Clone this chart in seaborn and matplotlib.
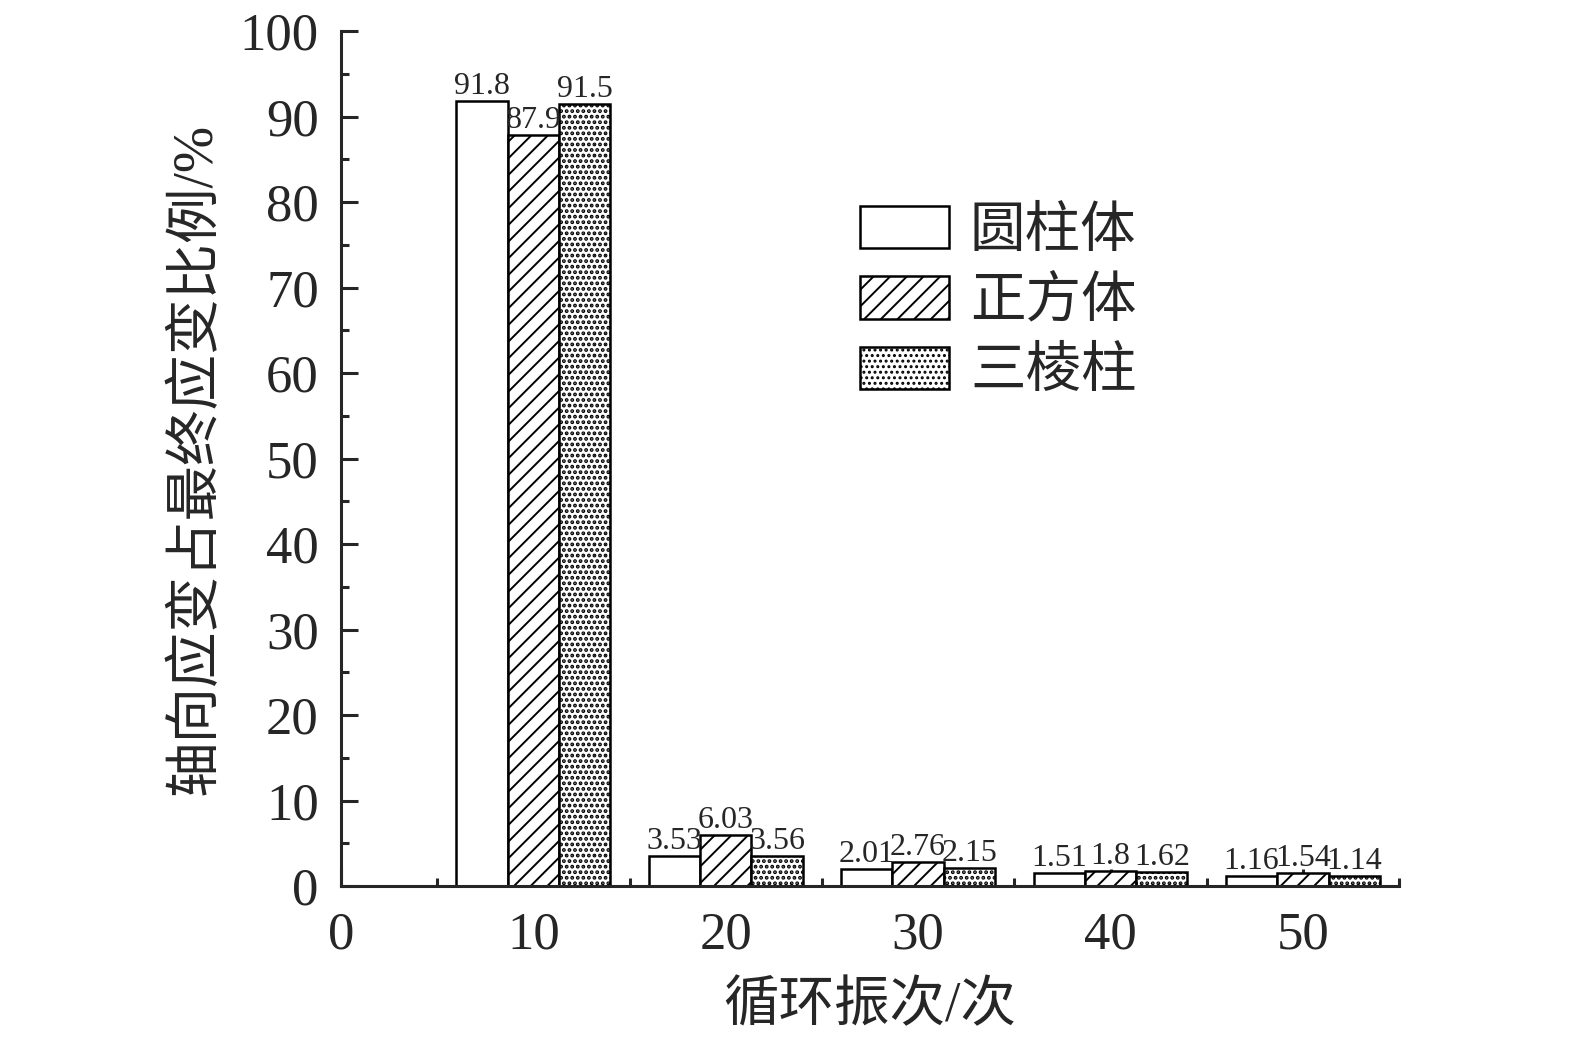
import pandas as pd
import matplotlib
matplotlib.use('Agg')
import matplotlib.pyplot as plt
import seaborn as sns
from matplotlib.ticker import MultipleLocator

# data
cycles = [10, 20, 30, 40, 50]
shapes = ['圆柱体', '正方体', '三棱柱']
cylinder = [91.8, 3.53, 2.01, 1.51, 1.16]
cube = [87.9, 6.03, 2.76, 1.8, 1.54]
prism = [91.5, 3.56, 2.15, 1.62, 1.14]
hatches = ['', '//', '...']

df = pd.DataFrame({
    'cycle': cycles * 3,
    'shape': [s for s in shapes for _ in cycles],
    'ratio': cylinder + cube + prism,
})

sns.set_style('ticks')
plt.rcParams['font.family'] = ['Liberation Serif', 'Noto Sans CJK SC']
plt.rcParams['hatch.linewidth'] = 1.4
plt.rcParams['axes.linewidth'] = 2.2

fig = plt.figure(figsize=(15.75, 10.4), dpi=100)
ax = fig.add_axes([0.2165, 0.148, 0.6718, 0.8221])

sns.barplot(data=df, x='cycle', y='ratio', hue='shape', hue_order=shapes,
            native_scale=True, palette=['white'] * 3, edgecolor='black',
            linewidth=1.8, saturation=1, legend=False, ax=ax)

for cont, h in zip(ax.containers, hatches):
    for p in cont:
        p.set_hatch(h)
        p.set_facecolor('white')
        if h == '...' and hasattr(p, 'set_hatch_linewidth'):
            p.set_hatch_linewidth(1.9)
    ax.bar_label(cont, fmt='%g', fontsize=23, padding=0)

ax.set_xlim(0, 55)
ax.set_ylim(0, 100)
ax.xaxis.set_major_locator(MultipleLocator(10))
ax.xaxis.set_minor_locator(MultipleLocator(5))
ax.yaxis.set_major_locator(MultipleLocator(10))
ax.yaxis.set_minor_locator(MultipleLocator(5))
ax.tick_params(which='major', direction='in', length=12, width=2.2, labelsize=38)
ax.tick_params(which='minor', direction='in', length=6, width=2.2)
ax.tick_params(axis='y', which='major', pad=16)
ax.tick_params(axis='x', which='major', pad=18)
sns.despine(ax=ax)

ax.set_xlabel('循环振次/次', fontsize=40, labelpad=16)
ax.set_ylabel('轴向应变占最终应变比例/%', fontsize=40, labelpad=12)

ax.legend(handles=ax.containers, labels=shapes, loc='upper left',
          bbox_to_anchor=(860 / 1575, 1 - 206 / 1040),
          bbox_transform=fig.transFigure, frameon=False, fontsize=40,
          handlelength=1.6, handleheight=0.8, handletextpad=0.38,
          labelspacing=0.32, borderpad=0, borderaxespad=0)

fig.savefig('out.png', dpi=100)
